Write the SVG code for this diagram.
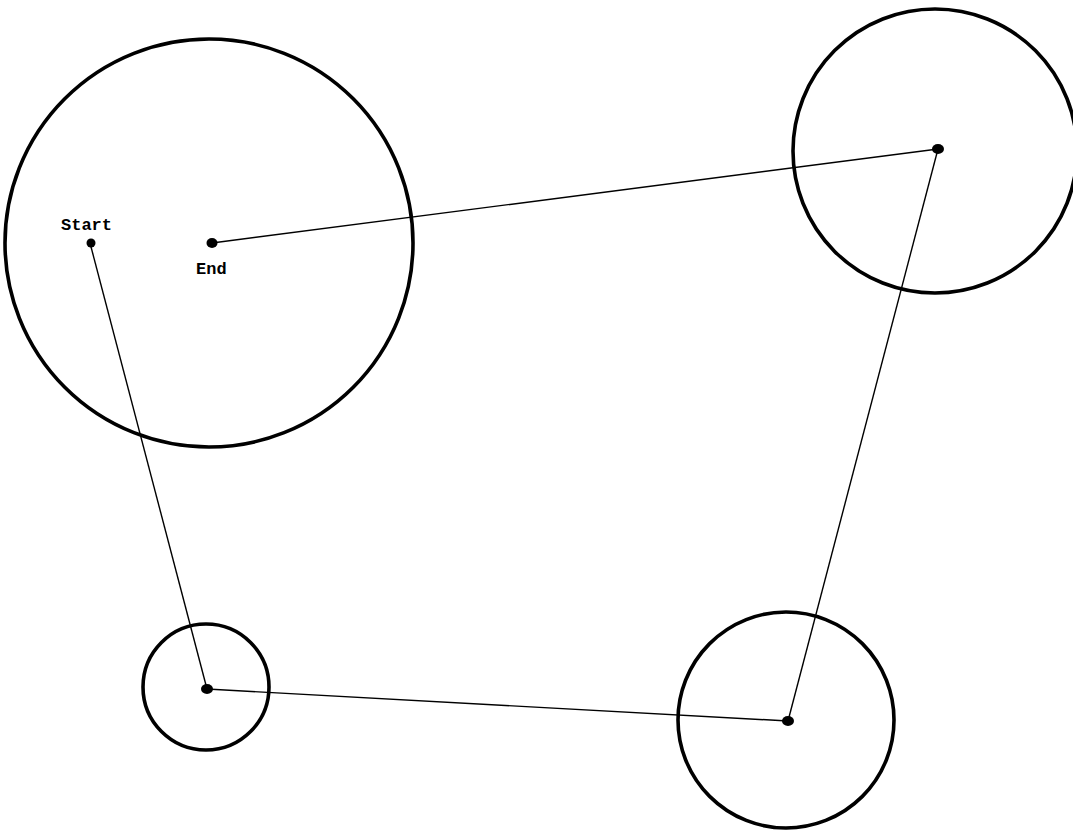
<svg xmlns="http://www.w3.org/2000/svg" width="1073" height="835" viewBox="0 0 1073 835">
<style>
.ring{fill:none;stroke:#000;stroke-width:3.6}
.dot{fill:#000}
.edge{stroke:#000;stroke-width:1.4;fill:none}
.lbl{font-family:"Liberation Mono","DejaVu Sans Mono",monospace;font-weight:bold;font-size:17px;fill:#000}
</style>
<rect width="1073" height="835" fill="#fff"/>
<g id="connectors">
<line class="edge" x1="90" y1="243" x2="207" y2="689"/>
<line class="edge" x1="207" y1="689" x2="788" y2="721"/>
<line class="edge" x1="788" y1="721" x2="938" y2="149"/>
<line class="edge" x1="938" y1="149" x2="212" y2="243"/>
</g>
<g id="circle-big"><circle class="ring" cx="209" cy="243" r="204"/></g>
<g id="circle-topright"><circle class="ring" cx="935" cy="151" r="142"/></g>
<g id="circle-small"><circle class="ring" cx="206" cy="687" r="63"/></g>
<g id="circle-bottomright"><circle class="ring" cx="786" cy="720" r="108"/></g>
<g id="start"><ellipse class="dot" cx="91" cy="243" rx="4.5" ry="4.5"/><text class="lbl" x="61" y="230">Start</text></g>
<g id="end"><ellipse class="dot" cx="212" cy="243" rx="5.5" ry="5"/><text class="lbl" x="196" y="274">End</text></g>
<g id="p-topright"><ellipse class="dot" cx="938" cy="149" rx="6" ry="5"/></g>
<g id="p-small"><ellipse class="dot" cx="207" cy="689" rx="6" ry="5"/></g>
<g id="p-bottomright"><ellipse class="dot" cx="788" cy="721" rx="6" ry="5"/></g>
</svg>
